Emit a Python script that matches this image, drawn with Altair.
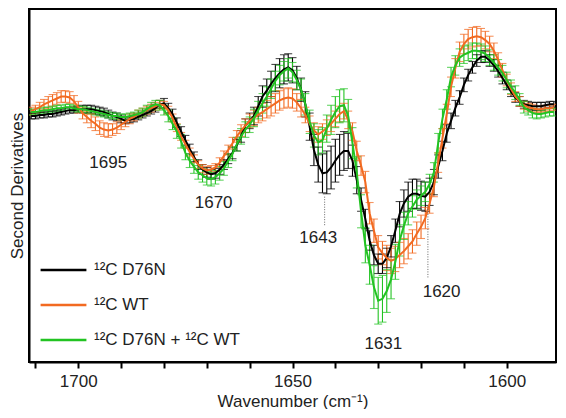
import altair as alt
import pandas as pd

FONT = "Liberation Sans"

# wavenumbers, 1711 -> 1589 cm-1, 1 cm-1 steps
wavenumber = list(range(1711, 1588, -1))

series_names = ["¹²C D76N", "¹²C WT", "¹²C D76N + ¹²C WT"]
series_colors = ["#000000", "#F26A21", "#22C322"]

# second-derivative values (arbitrary units)
d76n = [-2, -2, -1, -1, 0, 0, 1, 2, 3, 4, 4, 5,
        5, 5, 5, 4, 3, 2, 0, -2, -3, -5,
        -7, -6, -5, -3, -1, 1, 3, 6, 10,
        11, 6, 0, -9, -18, -27, -36, -44, -52, -57, -60, -62, -61, -57, -52, -46, -40, -32, -23, -12,
        -7, -2, 8, 18, 24, 31, 37, 42, 46, 48, 45, 37, 25, 10, -13,
        -37, -52, -61, -60, -55, -48, -42, -38, -38, -48,
        -68, -88, -108, -130, -145, -154, -154, -148, -136, -120,
        -103, -92, -85, -82, -82, -84, -85, -80, -70, -54,
        -38, -20, -7, 6, 17, 30, 40, 48, 55, 59,
        59, 55, 50, 44, 37, 30, 23, 17, 13, 10, 9, 8, 8, 8, 9, 10, 10]
d76n_err = [3, 3, 3, 3, 3, 3, 3, 3, 3, 3, 3, 3,
            4, 4, 4, 4, 4, 4, 4, 4, 4, 4,
            3, 3, 3, 3, 3, 3, 3, 4, 4,
            5, 5, 5, 5, 5, 5, 5, 5, 5, 5, 5, 5, 5, 5, 5, 5, 6, 6, 6, 7,
            8, 9, 10, 11, 12, 13, 14, 15, 15, 14, 13, 12, 12, 13, 14,
            16, 18, 20, 22, 22, 22, 21, 20, 18, 16,
            14, 12, 10, 10, 10, 10, 10, 10, 11, 12,
            13, 14, 15, 15, 15, 15, 15, 14, 13, 12,
            10, 9, 8, 8, 7, 7, 6, 6, 6, 6,
            6, 6, 6, 6, 6, 5, 5, 5, 5, 4, 4, 4, 4, 4, 3, 3, 3]

wt = [3, 5, 7, 10, 12, 14, 16, 18, 18, 17, 13, 7,
      1, -3, -7, -10, -14, -16, -17, -16, -14, -11,
      -8, -5, -3, 0, 2, 4, 6, 8, 10,
      9, 4, -4, -14, -23, -31, -39, -46, -52, -56, -58, -57, -55, -50, -43, -37, -30, -23, -17, -12,
      -7, -4, -1, 2, 5, 8, 11, 14, 16, 17, 16, 12, 6, -1, -10,
      -17, -21, -18, -14, -10, -5, 0, 3, -6, -18,
      -38, -53, -70, -102, -120, -137, -143, -148, -151, -149,
      -145, -141, -136, -131, -123, -116, -107, -92, -75, -50,
      -25, 0, 28, 47, 64, 72, 77, 79, 80, 79,
      76, 72, 65, 56, 45, 35, 26, 18, 13, 9, 7, 6, 5, 5, 6, 6, 7]
wt_err = [4, 4, 5, 5, 6, 6, 6, 6, 6, 6, 6, 6,
          6, 6, 7, 7, 7, 7, 7, 6, 6, 5,
          5, 5, 4, 4, 4, 4, 4, 4, 4,
          4, 4, 4, 4, 4, 4, 4, 4, 4, 4, 4, 4, 4, 5, 5, 5, 6, 6, 6, 7,
          7, 8, 8, 9, 9, 10, 10, 10, 10, 10, 10, 9, 9, 8, 8,
          8, 8, 8, 8, 8, 8, 8, 8, 9, 9,
          10, 10, 11, 11, 12, 12, 12, 13, 13, 13,
          13, 13, 13, 12, 12, 12, 11, 10, 10, 10,
          10, 10, 10, 10, 10, 10, 10, 10, 10, 9,
          9, 8, 8, 7, 7, 6, 6, 5, 5, 4, 4, 4, 3, 3, 3, 3, 3]

mix = [2, 2, 3, 4, 4, 5, 6, 6, 7, 7, 6, 5,
       5, 4, 3, 2, 1, 0, -1, -2, -2, -3,
       -3, -2, -1, 0, 2, 5, 8, 10, 9,
       4, -2, -10, -18, -28, -40, -48, -54, -60, -63, -66, -67, -65, -61, -56, -48, -41, -31, -23, -16,
       -11, -4, 4, 11, 18, 26, 34, 40, 44, 47, 43, 35, 25, 10, -8,
       -22, -29, -27, -15, -6, 2, 8, 9, -2, -30,
       -60, -100, -135, -155, -178, -192, -190, -182, -170, -152,
       -130, -115, -102, -95, -88, -84, -80, -72, -60, -30,
       -5, 15, 38, 50, 58, 61, 63, 65, 65, 64,
       62, 58, 53, 48, 42, 35, 28, 22, 15, 7, 4, 1, 0, 0, 1, 2, 2]
mix_err = [3, 3, 3, 3, 3, 3, 3, 3, 3, 3, 3, 3,
           3, 3, 3, 3, 3, 3, 3, 3, 3, 3,
           3, 3, 3, 4, 4, 4, 4, 4, 5,
           5, 6, 6, 7, 7, 7, 7, 7, 7, 7, 7, 7, 7, 7, 7, 7, 7, 7, 8, 8,
           8, 9, 9, 10, 10, 10, 10, 10, 10, 10, 10, 10, 11, 11, 12,
           12, 13, 13, 14, 15, 16, 17, 17, 17, 16,
           16, 17, 18, 20, 22, 24, 24, 22, 20, 18,
           16, 14, 12, 11, 10, 10, 10, 10, 10, 10,
           10, 10, 10, 10, 9, 9, 8, 8, 8, 8,
           8, 8, 8, 8, 8, 8, 7, 7, 6, 6, 5, 5, 5, 4, 4, 4, 4]

# peak annotations
ann_text = ["1695", "1670", "1643", "1631", "1620"]
ann_x = [1693.0, 1668.4, 1644.0, 1628.8, 1615.2]
ann_y = [-50, -91, -128, -236, -183]

# dotted guide lines
guide_x = [1642.5, 1618.4]
guide_y1 = [-85, -95]
guide_y2 = [-115, -168]

rows = []
for name, vals, errs in zip(series_names, [d76n, wt, mix], [d76n_err, wt_err, mix_err]):
    for w, v, e in zip(wavenumber, vals, errs):
        rows.append({"wn": w, "val": v, "lo": v - e, "hi": v + e, "series": name})
df = pd.DataFrame(rows)

ann_df = pd.DataFrame({"x": ann_x, "y": ann_y, "t": ann_text})
guide_df = pd.DataFrame({"x": guide_x, "y1": guide_y1, "y2": guide_y2})

xscale = alt.Scale(domain=[1588.5, 1711.5], reverse=True, nice=False, zero=False)
yscale = alt.Scale(domain=[-255, 108], nice=False, zero=False)
cscale = alt.Scale(domain=series_names, range=series_colors)

xaxis = alt.Axis(
    title="Wavenumber (cm⁻¹)",
    values=list(range(1600, 1711, 10)),
    labelExpr="datum.value % 50 == 0 ? format(datum.value, 'd') : ''",
    tickSize=6, tickWidth=2, tickColor="black",
    domainColor="black", domainWidth=2, grid=False,
    labelFontSize=17, labelFont=FONT, labelColor="#222",
    titleFontSize=17, titleFont=FONT, titleFontWeight="normal", titleColor="#222",
    labelPadding=5, titlePadding=4,
)
yaxis = alt.Axis(
    title="Second Derivatives", labels=False, ticks=False, grid=False,
    domainColor="black", domainWidth=2,
    titleFontSize=17, titleFont=FONT, titleFontWeight="normal", titleColor="#222",
    titlePadding=3,
)

color_enc = alt.Color(
    "series:N", scale=cscale,
    legend=alt.Legend(
        orient="none", legendX=10, legendY=251, title=None,
        symbolType="stroke", symbolSize=2100, symbolStrokeWidth=2.5, symbolOpacity=1,
        labelFontSize=17, labelFont=FONT, labelColor="#222",
        rowPadding=15, clipHeight=20, labelOffset=6,
    ),
)

base = alt.Chart(df)

err_rule = base.mark_rule(strokeWidth=1.1, clip=True).encode(
    x=alt.X("wn:Q", scale=xscale, axis=xaxis),
    y=alt.Y("lo:Q", scale=yscale, axis=yaxis),
    y2="hi:Q",
    color=color_enc,
)
cap_lo = base.mark_tick(thickness=1.1, size=8, orient="horizontal", clip=True).encode(
    x=alt.X("wn:Q", scale=xscale),
    y=alt.Y("lo:Q", scale=yscale),
    color=color_enc,
)
cap_hi = base.mark_tick(thickness=1.1, size=8, orient="horizontal", clip=True).encode(
    x=alt.X("wn:Q", scale=xscale),
    y=alt.Y("hi:Q", scale=yscale),
    color=color_enc,
)
lines = base.mark_line(strokeWidth=2, clip=True).encode(
    x=alt.X("wn:Q", scale=xscale),
    y=alt.Y("val:Q", scale=yscale),
    color=color_enc,
    detail="series:N",
)

guides = alt.Chart(guide_df).mark_rule(strokeWidth=1, strokeDash=[1, 1.5], color="#666").encode(
    x=alt.X("x:Q", scale=xscale),
    y=alt.Y("y1:Q", scale=yscale),
    y2="y2:Q",
)
labels = alt.Chart(ann_df).mark_text(fontSize=17, font=FONT, color="#222", baseline="middle").encode(
    x=alt.X("x:Q", scale=xscale),
    y=alt.Y("y:Q", scale=yscale),
    text="t:N",
)

chart = alt.layer(err_rule, cap_lo, cap_hi, lines, guides, labels).properties(
    width=550, height=401,
    autosize=alt.AutoSizeParams(type="fit", contains="padding"),
    padding={"left": 0, "top": 1, "right": 2, "bottom": 0},
).configure_view(stroke="black", strokeWidth=2)

chart.save("out.html", embed_options={"renderer": "svg", "actions": False})
